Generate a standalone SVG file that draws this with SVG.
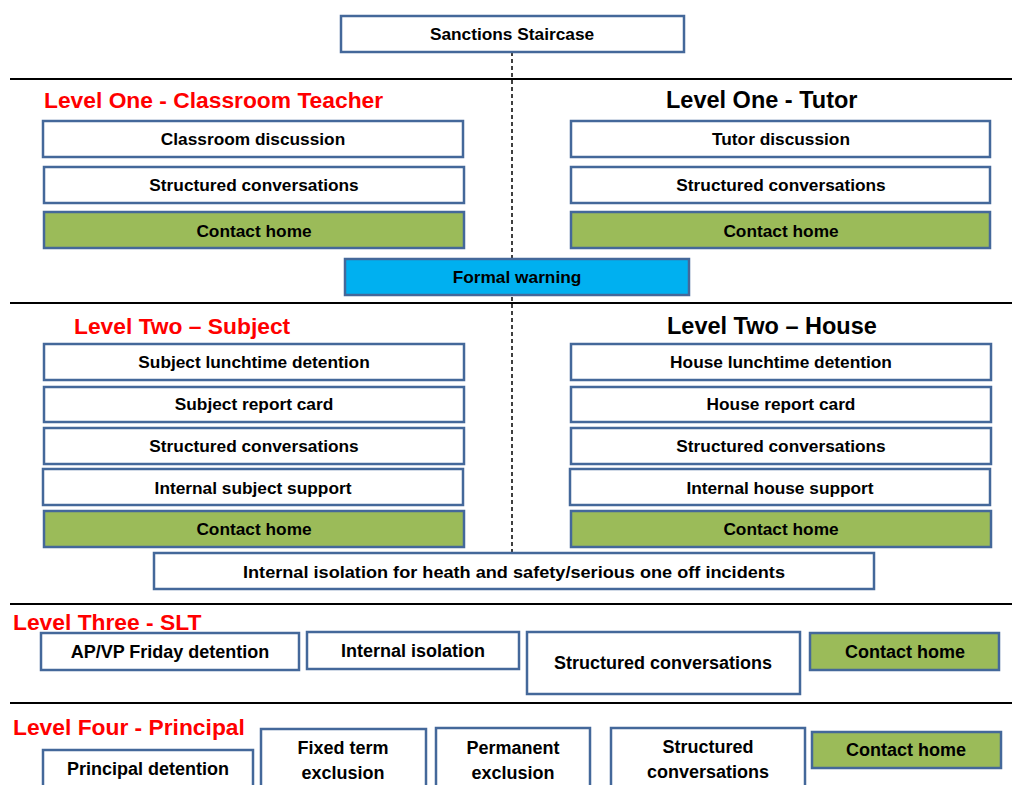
<svg xmlns="http://www.w3.org/2000/svg" width="1012" height="785" viewBox="0 0 1012 785">
<style>
.b{fill:#fff;stroke:#44689A;stroke-width:2.5}
.g{fill:#9BBB59;stroke:#44689A;stroke-width:2.5}
.c{fill:#00B0F0;stroke:#44689A;stroke-width:2.5}
.t{font-family:"Liberation Sans",Arial,sans-serif;font-weight:bold;font-size:17.3px;fill:#000;text-anchor:middle;dominant-baseline:central}
.L{font-size:18px}
.h{font-family:"Liberation Sans",Arial,sans-serif;font-weight:bold;font-size:22.8px}
.r{fill:#FF0000}
.k{fill:#000}
.sep{stroke:#000;stroke-width:2}
</style>
<rect width="1012" height="785" fill="#fff"/>
<g id="connectors">
<line x1="512" y1="52" x2="512" y2="553" stroke="#000" stroke-width="1.5" stroke-dasharray="4,3"/>
</g>
<g id="separators">
<line class="sep" x1="10" y1="79" x2="1012" y2="79"/>
<line class="sep" x1="10" y1="303" x2="1012" y2="303"/>
<line class="sep" x1="10" y1="604" x2="1012" y2="604"/>
<line class="sep" x1="10" y1="703" x2="1012" y2="703"/>
</g>
<g id="title"><rect class="b" x="341" y="16" width="343" height="36"/><text class="t" x="512" y="34">Sanctions Staircase</text></g>
<g id="headings">
<text class="h r" x="44" y="108">Level One - Classroom Teacher</text>
<text class="h k" x="666" y="108" style="font-size:23.5px">Level One - Tutor</text>
<text class="h r" x="74" y="334">Level Two – Subject</text>
<text class="h k" x="667" y="334" style="font-size:23.5px">Level Two – House</text>
<text class="h r" x="13" y="630">Level Three - SLT</text>
<text class="h r" x="13" y="735">Level Four - Principal</text>
</g>
<g id="l1-left-1"><rect class="b" x="43" y="121" width="420" height="36"/><text class="t" x="253" y="139">Classroom discussion</text></g>
<g id="l1-left-2"><rect class="b" x="44" y="167" width="420" height="36"/><text class="t" x="254" y="185">Structured conversations</text></g>
<g id="l1-left-3"><rect class="g" x="44" y="212" width="420" height="36"/><text class="t" x="254" y="231">Contact home</text></g>
<g id="l1-right-1"><rect class="b" x="571" y="121" width="419" height="36"/><text class="t" x="781" y="139">Tutor discussion</text></g>
<g id="l1-right-2"><rect class="b" x="571" y="167" width="419" height="36"/><text class="t" x="781" y="185">Structured conversations</text></g>
<g id="l1-right-3"><rect class="g" x="571" y="212" width="419" height="36"/><text class="t" x="781" y="231">Contact home</text></g>
<g id="formal-warning"><rect class="c" x="345" y="259" width="344" height="36"/><text class="t" x="517" y="277">Formal warning</text></g>
<g id="l2-left-1"><rect class="b" x="44" y="344" width="420" height="36"/><text class="t" x="254" y="362">Subject lunchtime detention</text></g>
<g id="l2-left-2"><rect class="b" x="44" y="387" width="420" height="35"/><text class="t" x="254" y="404">Subject report card</text></g>
<g id="l2-left-3"><rect class="b" x="44" y="428" width="420" height="36"/><text class="t" x="254" y="446">Structured conversations</text></g>
<g id="l2-left-4"><rect class="b" x="43" y="469" width="420" height="36"/><text class="t" x="253" y="488">Internal subject support</text></g>
<g id="l2-left-5"><rect class="g" x="44" y="511" width="420" height="36"/><text class="t" x="254" y="529">Contact home</text></g>
<g id="l2-right-1"><rect class="b" x="571" y="344" width="420" height="36"/><text class="t" x="781" y="362">House lunchtime detention</text></g>
<g id="l2-right-2"><rect class="b" x="571" y="387" width="420" height="35"/><text class="t" x="781" y="404">House report card</text></g>
<g id="l2-right-3"><rect class="b" x="571" y="428" width="420" height="36"/><text class="t" x="781" y="446">Structured conversations</text></g>
<g id="l2-right-4"><rect class="b" x="570" y="469" width="420" height="36"/><text class="t" x="780" y="488">Internal house support</text></g>
<g id="l2-right-5"><rect class="g" x="571" y="511" width="420" height="36"/><text class="t" x="781" y="529">Contact home</text></g>
<g id="isolation-hs"><rect class="b" x="154" y="553" width="720" height="36"/><text class="t" x="514" y="572" textLength="542" lengthAdjust="spacingAndGlyphs">Internal isolation for heath and safety/serious one off incidents</text></g>
<g id="l3-1"><rect class="b" x="41" y="633" width="258" height="37"/><text class="t L" x="170" y="652">AP/VP Friday detention</text></g>
<g id="l3-2"><rect class="b" x="307" y="632" width="212" height="37"/><text class="t L" x="413" y="651">Internal isolation</text></g>
<g id="l3-3"><rect class="b" x="527" y="632" width="273" height="62"/><text class="t L" x="663" y="663">Structured conversations</text></g>
<g id="l3-4"><rect class="g" x="810" y="633" width="189" height="37"/><text class="t L" x="905" y="652">Contact home</text></g>
<g id="l4-1"><rect class="b" x="43" y="750" width="210" height="45"/><text class="t L" x="148" y="769">Principal detention</text></g>
<g id="l4-2"><rect class="b" x="261" y="729" width="165" height="66"/><text class="t L" x="343" y="748">Fixed term</text><text class="t L" x="343" y="773">exclusion</text></g>
<g id="l4-3"><rect class="b" x="436" y="728" width="154" height="67"/><text class="t L" x="513" y="748">Permanent</text><text class="t L" x="513" y="773">exclusion</text></g>
<g id="l4-4"><rect class="b" x="611" y="728" width="194" height="67"/><text class="t L" x="708" y="747">Structured</text><text class="t L" x="708" y="772">conversations</text></g>
<g id="l4-5"><rect class="g" x="812" y="732" width="189" height="36"/><text class="t L" x="906" y="750">Contact home</text></g>
</svg>
